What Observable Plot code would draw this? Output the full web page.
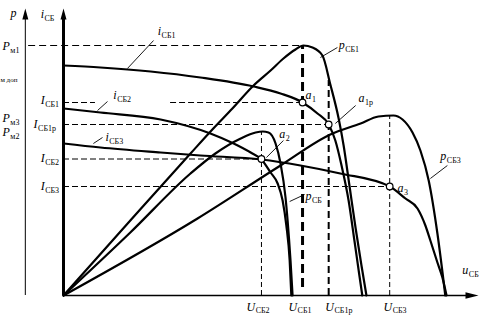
<!DOCTYPE html>
<html><head><meta charset="utf-8">
<script src="https://cdn.jsdelivr.net/npm/d3@7"></script>
<script src="https://cdn.jsdelivr.net/npm/@observablehq/plot@0.6"></script>
<style>body{margin:0;background:#fff} svg{display:block}</style>
</head><body><div id="chart"></div>
<script>
// ---- Volt-ampere (i) and power (p) characteristics of three solar batteries ----
const uI1 = [0, 8.9, 21.0, 33.0, 45.8, 52.3, 57.6, 61.2, 63.9, 65.5, 67.0, 68.7, 70.1, 71.3, 72.0];
const vI1 = [92, 91.2, 89.6, 87.2, 83.6, 80.8, 77.2, 72.8, 68.4, 62, 52, 38, 22, 8, 0];
const uP1 = [0, 16.1, 30.6, 36.1, 40.7, 45.8, 49.9, 53.0, 55.9, 57.8, 60.0, 62.4, 64.3, 66.3, 67.5, 68.9, 70.4, 71.8, 73.0];
const vP1 = [0, 30, 56.8, 66.8, 74.8, 84, 90, 94.8, 98.4, 100, 99.2, 96, 84.4, 70.8, 60, 44, 26.8, 12, 0];
const uI2 = [0, 8.9, 23.4, 35.4, 41.0, 45.1, 47.7, 49.9, 51.6, 52.8, 53.7, 54.5, 54.9];
const vI2 = [74.8, 73.2, 70.4, 64.8, 60.8, 57.2, 54.4, 49.2, 44.8, 38, 28, 14, 0];
const uP2 = [0, 16.1, 30.6, 36.6, 42.7, 46.3, 48.0, 49.4, 51.1, 52.3, 53.5, 54.0, 54.7, 55.2];
const vP2 = [0, 25.2, 48.8, 56.8, 62.8, 65.2, 65.6, 65.2, 60.8, 52.8, 39.2, 30, 14, 0];
const uI3 = [0, 8.9, 23.4, 33.0, 47.7, 57.1, 66.7, 78.6, 82.4, 85.3, 87.2, 88.4, 90.1, 91.3, 92.3];
const vI3 = [60.8, 59.2, 57.2, 56, 54.4, 52, 48.8, 43.6, 38.8, 34.8, 28, 22, 13.2, 7.2, 0];
const uP3 = [0, 32.3, 52.3, 64.3, 71.6, 75.9, 79.5, 81.7, 84.1, 86.0, 88.0, 90.1, 92.0];
const vP3 = [0, 30.8, 52, 64.4, 68.8, 71.6, 72, 70.4, 65.2, 58, 46, 24.8, 0];

// key values
const U_SB1 = 57.6, U_SB2 = 47.7, U_SB1r = 63.9, U_SB3 = 78.6;
const I_SB1 = 77.2, I_SB1r = 68.4, I_SB2 = 54.6, I_SB3 = 43.6;
const P_m1 = 100, P_m2 = 65.6, P_m3 = 72;
const points = [
  {u: U_SB1, v: I_SB1}, {u: U_SB1r, v: I_SB1r}, {u: U_SB2, v: I_SB2}, {u: U_SB3, v: I_SB3}
];

// ---- build tables ----
const series = [
  ["i1", uI1, vI1], ["p1", uP1, vP1], ["i2", uI2, vI2],
  ["p2", uP2, vP2], ["i3", uI3, vI3], ["p3", uP3, vP3]
];
const rows = series.flatMap(([name, us, vs]) => us.map((u, i) => ({name, u, v: vs[i]})));

const pAxisU = -9.2, axisTop = 114.8, uMax = 100;

const hDash = [
  {v: I_SB1, u1: 0, u2: 7.7}, {v: I_SB1, u1: 25.8, u2: U_SB1},
  {v: I_SB1r, u1: 0, u2: U_SB1r}, {v: I_SB2, u1: 0, u2: U_SB2},
  {v: I_SB3, u1: 0, u2: U_SB3}
];
const vThin = [
  {u: U_SB2, v1: 0, v2: P_m2}, {u: U_SB3, v1: 0, v2: P_m3}
];

// ---- annotations ----
const labels = [
  {t: "p", u: -12.8, v: 112.8}, {t: "i_СБ", u: -5.5, v: 112.4},
  {t: "P_м1", u: -14.7, v: 99.6},
  {t: "I_СБ1", u: -5.5, v: 78}, {t: "P_м3", u: -14.7, v: 70.8}, {t: "P_м2", u: -14.7, v: 65.2},
  {t: "I_СБ1р", u: -7.2, v: 68.4}, {t: "I_СБ2", u: -5.5, v: 54.8}, {t: "I_СБ3", u: -5.5, v: 43.6},
  {t: "i_СБ1", u: 22.7, v: 105.6}, {t: "i_СБ2", u: 12.0, v: 80}, {t: "i_СБ3", u: 10.1, v: 63.2},
  {t: "p_СБ1", u: 66.3, v: 100}, {t: "a_1", u: 58.3, v: 80}, {t: "a_1р", u: 71.1, v: 78.8},
  {t: "a_2", u: 52.0, v: 64.4}, {t: "a_3", u: 80.5, v: 42.8}, {t: "p_СБ3", u: 90.8, v: 55.6},
  {t: "p_СБ", u: 58.3, v: 39.6}, {t: "u_СБ", u: 96.1, v: 10},
  {t: "U_СБ2", u: 44.1, v: -4.6}, {t: "U_СБ1", u: 54.2, v: -4.6},
  {t: "U_СБ1р", u: 63.1, v: -4.6}, {t: "U_СБ3", u: 77.1, v: -4.6}
];
const leaders = [
  {u1: 15.4, v1: 90.8, u2: 21.7, v2: 102}, {u1: 8.2, v1: 74, u2: 10.6, v2: 77.6},
  {u1: 7.2, v1: 60.8, u2: 9.4, v2: 63.2}, {u1: 61.9, v1: 95.2, u2: 66.0, v2: 99.2},
  {u1: 65.5, v1: 68.8, u2: 70.4, v2: 76}, {u1: 48.9, v1: 55.2, u2: 53.0, v2: 62},
  {u1: 88.4, v1: 46.8, u2: 92.5, v2: 52}, {u1: 54.5, v1: 37.6, u2: 58.1, v2: 40.4}
];

const plot = Plot.plot({
  width: 482, height: 316,
  marginTop: 0, marginRight: 0, marginBottom: 0, marginLeft: 0,
  x: {domain: [0, 100], range: [63, 478], axis: null},
  y: {domain: [0, 100], range: [295, 45], axis: null},
  style: {fontFamily: "Liberation Serif", background: "#fff", color: "#000"},
  marks: [
    // dashed guides
    Plot.ruleY([P_m1], {x1: pAxisU + 0.8, x2: U_SB1, stroke: "#000", strokeWidth: 1, strokeDasharray: "7,4"}),
    Plot.ruleY(hDash, {y: "v", x1: "u1", x2: "u2", stroke: "#000", strokeWidth: 1, strokeDasharray: "6,3"}),
    Plot.ruleX(vThin, {x: "u", y1: "v1", y2: "v2", stroke: "#000", strokeWidth: 1, strokeDasharray: "5,3"}),
    Plot.ruleX([U_SB1], {y1: 3.2, y2: P_m1, stroke: "#000", strokeWidth: 3, strokeDasharray: "9,5"}),
    Plot.ruleX([U_SB1r], {y1: 0, y2: 86, stroke: "#000", strokeWidth: 2, strokeDasharray: "7,4"}),
    // axes
    Plot.ruleX([pAxisU], {y1: 0, y2: axisTop - 3, stroke: "#000", strokeWidth: 1}),
    Plot.ruleX([0], {y1: 0, y2: axisTop - 3, stroke: "#000", strokeWidth: 3}),
    Plot.ruleY([0], {x1: 0, x2: uMax - 2, stroke: "#000", strokeWidth: 1.5}),
    Plot.vector([{u: pAxisU, v: axisTop}, {u: 0, v: axisTop}], {x: "u", y: "v", length: 11, r: 3, shape: "spike", anchor: "end", rotate: 0, fill: "#000", stroke: "none"}),
    Plot.vector([{u: uMax, v: 0}], {x: "u", y: "v", length: 13, r: 3.2, shape: "spike", anchor: "end", rotate: 90, fill: "#000", stroke: "none"}),
    // curves
    Plot.line(rows, {x: "u", y: "v", z: "name", curve: "monotone-x", stroke: "#000", strokeWidth: 2.2}),
    // leaders
    Plot.link(leaders, {x1: "u1", y1: "v1", x2: "u2", y2: "v2", stroke: "#000", strokeWidth: 0.9}),
    // operating points
    Plot.dot(points, {x: "u", y: "v", r: 3.3, fill: "#fff", stroke: "#000", strokeWidth: 1.2}),
    // labels
    Plot.text(labels, {x: "u", y: "v", text: "t", textAnchor: "start", lineAnchor: "middle", fontSize: 12, fill: "#000"}),
    Plot.text(["м доп"], {x: -15.2, y: 86.4, textAnchor: "start", lineAnchor: "middle", fontSize: 7, fill: "#000"})
  ]
});

// subscripts: main letter italic, the rest as a small lowered tspan
const NS = "http://www.w3.org/2000/svg";
plot.querySelectorAll("text").forEach(t => {
  const s = t.textContent;
  if (!s.includes("_")) { if (s.length === 1) t.setAttribute("font-style", "italic"); return; }
  const [m, sub] = s.split("_");
  t.textContent = "";
  const a = document.createElementNS(NS, "tspan");
  a.setAttribute("font-style", "italic");
  a.textContent = m;
  const b = document.createElementNS(NS, "tspan");
  b.setAttribute("font-size", "8");
  b.setAttribute("dy", "2.5");
  b.setAttribute("dx", "0.5");
  b.textContent = sub;
  t.append(a, b);
});
document.getElementById("chart").append(plot);
</script>
</body></html>
